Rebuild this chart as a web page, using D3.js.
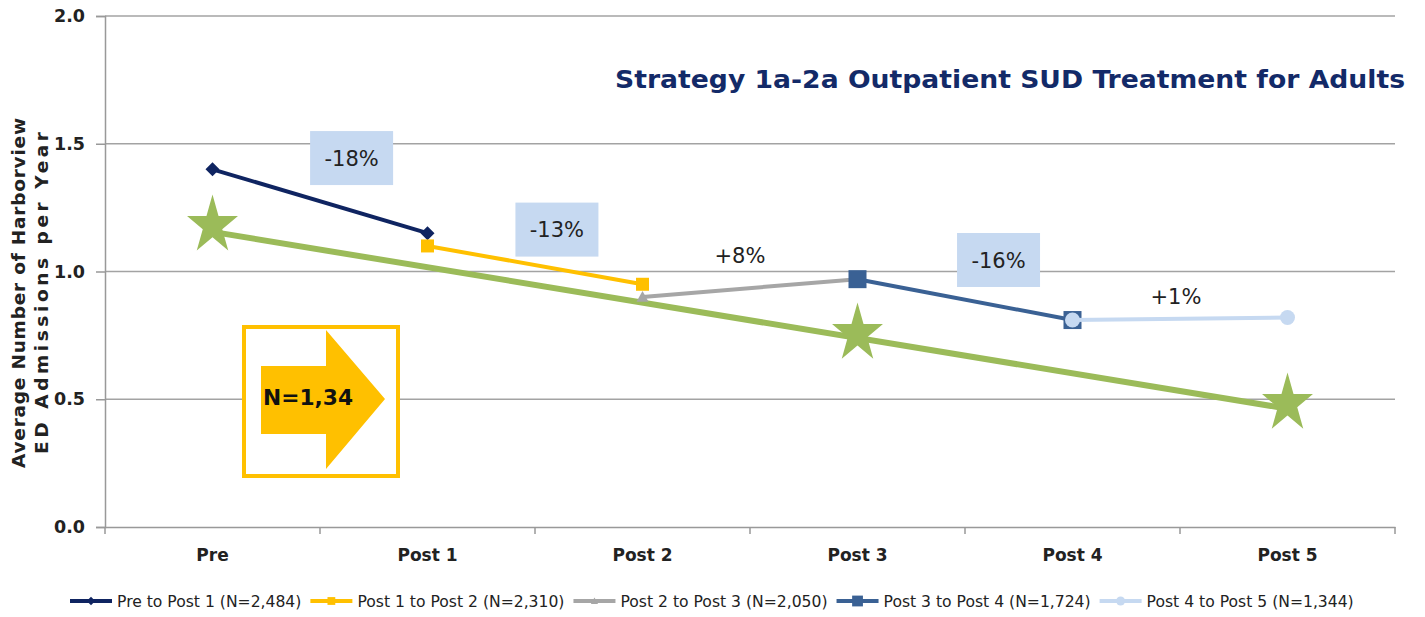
<!DOCTYPE html>
<html><head><meta charset="utf-8">
<script src="https://cdn.jsdelivr.net/npm/d3@7"></script>
<style>body{margin:0;background:#fff}svg{display:block}</style>
</head><body>
<svg id="c" width="1425" height="617"></svg>
<script>
// ---- data ----
const categories = ["Pre", "Post 1", "Post 2", "Post 3", "Post 4", "Post 5"];
const seriesNames = ["Pre to Post 1 (N=2,484)", "Post 1 to Post 2 (N=2,310)", "Post 2 to Post 3 (N=2,050)", "Post 3 to Post 4 (N=1,724)", "Post 4 to Post 5 (N=1,344)"];
const seriesStart = ["Pre", "Post 1", "Post 2", "Post 3", "Post 4"];
const seriesEnd = ["Post 1", "Post 2", "Post 3", "Post 4", "Post 5"];
const seriesStartValues = [1.40, 1.10, 0.90, 0.97, 0.81];
const seriesEndValues = [1.15, 0.95, 0.97, 0.81, 0.82];
const trendCats = ["Pre", "Post 5"];
const trendValues = [1.155, 0.463];
const starCats = ["Pre", "Post 3", "Post 5"];
const starValues = [1.18, 0.757, 0.483];
const changeLabels = ["-18%", "-13%", "+8%", "-16%", "+1%"];
const changeBoxed = [true, true, false, true, false];
const yTicks = [0, 0.5, 1.0, 1.5, 2.0];
const titleText = "Strategy 1a-2a Outpatient SUD Treatment for Adults";
const yTitle = ["Average Number of Harborview", "ED Admissions per Year"];
const arrowText = "N=1,34";

// ---- styles / layout ----
const colors = ["#0F2461", "#FFC000", "#A6A6A6", "#3A6194", "#C6D9F1"];
const markers = ["diamond", "square", "triangle", "bigsquare", "circle"];
const green = "#9BBB59";
// annotation anchors in (category index offset, value) space
const annotX = [0.647, 1.602, 2.453, 3.656, 4.481];
const annotY = [1.444, 1.164, 1.061, 1.045, 0.902];

const svg = d3.select("#c");
const L = 105, R = 1395, T = 16, B = 527;
const x = d3.scaleBand().domain(categories).range([L, R]);
const y = d3.scaleLinear().domain([0, 2]).range([B, T]);
const cx = c => x(c) + x.bandwidth() / 2;
const cxi = i => x(categories[0]) + x.bandwidth() / 2 + i * x.bandwidth();

// gridlines
svg.append("g").selectAll("line").data(yTicks.filter(d => d > 0)).join("line")
  .attr("x1", L).attr("x2", R).attr("y1", d => y(d)).attr("y2", d => y(d))
  .attr("stroke", "#A3A3A3").attr("stroke-width", 1.6);

// y axis
const ya = svg.append("g").attr("transform", `translate(${L},0)`)
  .call(d3.axisLeft(y).tickValues(yTicks).tickFormat(d3.format(".1f")).tickSize(9).tickPadding(11));
ya.select(".domain").attr("stroke", "#999").attr("stroke-width", 1.5);
ya.selectAll(".tick line").attr("stroke", "#999").attr("stroke-width", 1.5);
ya.selectAll("text").attr("font-family", "DejaVu Sans").attr("font-weight", "bold")
  .attr("font-size", 17.5).attr("fill", "#222");

// x axis
const xa = svg.append("g").attr("transform", `translate(0,${B})`)
  .call(d3.axisBottom(x).tickSize(0).tickPadding(22));
xa.select(".domain").attr("stroke", "#999").attr("stroke-width", 1.5);
xa.selectAll("text").attr("font-family", "DejaVu Sans").attr("font-weight", "bold")
  .attr("font-size", 17).attr("fill", "#222");
const bounds = categories.map((c, i) => x(c)).concat([R]);
xa.selectAll("line.bt").data(bounds).join("line").attr("class", "bt")
  .attr("x1", d => d).attr("x2", d => d).attr("y1", 0).attr("y2", 7)
  .attr("stroke", "#999").attr("stroke-width", 1.5);

// y title
const yt = svg.append("text").attr("transform", `translate(0,293) rotate(-90)`)
  .attr("font-family", "DejaVu Sans").attr("font-weight", "bold").attr("font-size", 18.5)
  .attr("fill", "#222").attr("text-anchor", "middle");
yt.append("tspan").attr("x", 0).attr("y", 25).attr("textLength", 350).attr("lengthAdjust", "spacing").text(yTitle[0]);
yt.append("tspan").attr("x", 0).attr("y", 48).attr("textLength", 322).attr("lengthAdjust", "spacing").text(yTitle[1]);

// title
svg.append("text").attr("x", 1405).attr("y", 88).attr("text-anchor", "end")
  .attr("font-family", "DejaVu Sans").attr("font-weight", "bold").attr("font-size", 25)
  .attr("fill", "#132A68").attr("textLength", 790).attr("lengthAdjust", "spacingAndGlyphs")
  .text(titleText);

// trend line (green)
const line = d3.line().x(d => cx(d[0])).y(d => y(d[1]));
svg.append("path").datum(trendCats.map((c, i) => [c, trendValues[i]]))
  .attr("d", line).attr("fill", "none").attr("stroke", green).attr("stroke-width", 6);

// stars
function starPath(rx, ry) {
  const pts = [];
  for (let k = 0; k < 10; k++) {
    const a = -Math.PI / 2 + k * Math.PI / 5;
    const f = k % 2 ? 0.382 : 1;
    pts.push([Math.cos(a) * rx * f, Math.sin(a) * ry * f]);
  }
  return "M" + pts.map(p => p.join(",")).join("L") + "Z";
}
svg.append("g").selectAll("path").data(starCats).join("path")
  .attr("d", starPath(26.8, 31))
  .attr("transform", (c, i) => `translate(${cx(c)},${y(starValues[i])})`)
  .attr("fill", green);

// marker drawing
function drawMarker(g, type, color, px, py, scale) {
  const s = scale || 1;
  if (type === "diamond") {
    const r = 7 * s;
    g.append("path").attr("d", `M${px},${py - r}L${px + r},${py}L${px},${py + r}L${px - r},${py}Z`).attr("fill", color);
  } else if (type === "square") {
    const r = 6.5 * s;
    g.append("rect").attr("x", px - r).attr("y", py - r).attr("width", 2 * r).attr("height", 2 * r).attr("fill", color);
  } else if (type === "bigsquare") {
    const r = 9 * s;
    g.append("rect").attr("x", px - r).attr("y", py - r).attr("width", 2 * r).attr("height", 2 * r).attr("fill", color);
  } else if (type === "triangle") {
    const r = 6 * s;
    g.append("path").attr("d", `M${px},${py - r}L${px + r},${py + r * 0.8}L${px - r},${py + r * 0.8}Z`).attr("fill", color);
  } else if (type === "circle") {
    g.append("circle").attr("cx", px).attr("cy", py).attr("r", 7.5 * s).attr("fill", color);
  }
}

// series
seriesNames.forEach((n, i) => {
  const g = svg.append("g");
  const pts = [[seriesStart[i], seriesStartValues[i]], [seriesEnd[i], seriesEndValues[i]]];
  g.append("path").datum(pts).attr("d", line).attr("fill", "none")
    .attr("stroke", colors[i]).attr("stroke-width", 4);
  pts.forEach(p => drawMarker(g, markers[i], colors[i], cx(p[0]), y(p[1])));
});

// change annotations
changeLabels.forEach((t, i) => {
  const px = cxi(annotX[i]), py = y(annotY[i]);
  if (changeBoxed[i]) {
    svg.append("rect").attr("x", px - 41.5).attr("y", py - 27).attr("width", 83).attr("height", 54)
      .attr("fill", "#C6D9F1");
  }
  svg.append("text").attr("x", px).attr("y", py + 7.5).attr("text-anchor", "middle")
    .attr("font-family", "DejaVu Sans").attr("font-size", 21).attr("fill", "#222").text(t);
});

// arrow box
const ab = svg.append("g");
ab.append("rect").attr("x", 244).attr("y", 327).attr("width", 154).attr("height", 149)
  .attr("fill", "#fff").attr("stroke", "#FFC000").attr("stroke-width", 4);
ab.append("path").attr("d", "M261,366L326,366L326,330L385,399L326,469L326,434L261,434Z").attr("fill", "#FFC000");
ab.append("text").attr("x", 263).attr("y", 405).attr("font-family", "DejaVu Sans").attr("font-weight", "bold")
  .attr("font-size", 21).attr("fill", "#111").attr("textLength", 90).attr("lengthAdjust", "spacingAndGlyphs").text(arrowText);

// legend
let lx = 70;
const ly = 601;
seriesNames.forEach((n, i) => {
  const g = svg.append("g");
  g.append("line").attr("x1", lx).attr("x2", lx + 42).attr("y1", ly).attr("y2", ly)
    .attr("stroke", colors[i]).attr("stroke-width", 4);
  drawMarker(g, markers[i], colors[i], lx + 21, ly, 0.6);
  const t = g.append("text").attr("x", lx + 47).attr("y", ly + 5.5)
    .attr("font-family", "DejaVu Sans")
    .attr("font-size", 15.6).attr("fill", "#222").text(n);
  lx += 47 + t.node().getComputedTextLength() + 9;
});
</script>
</body></html>
